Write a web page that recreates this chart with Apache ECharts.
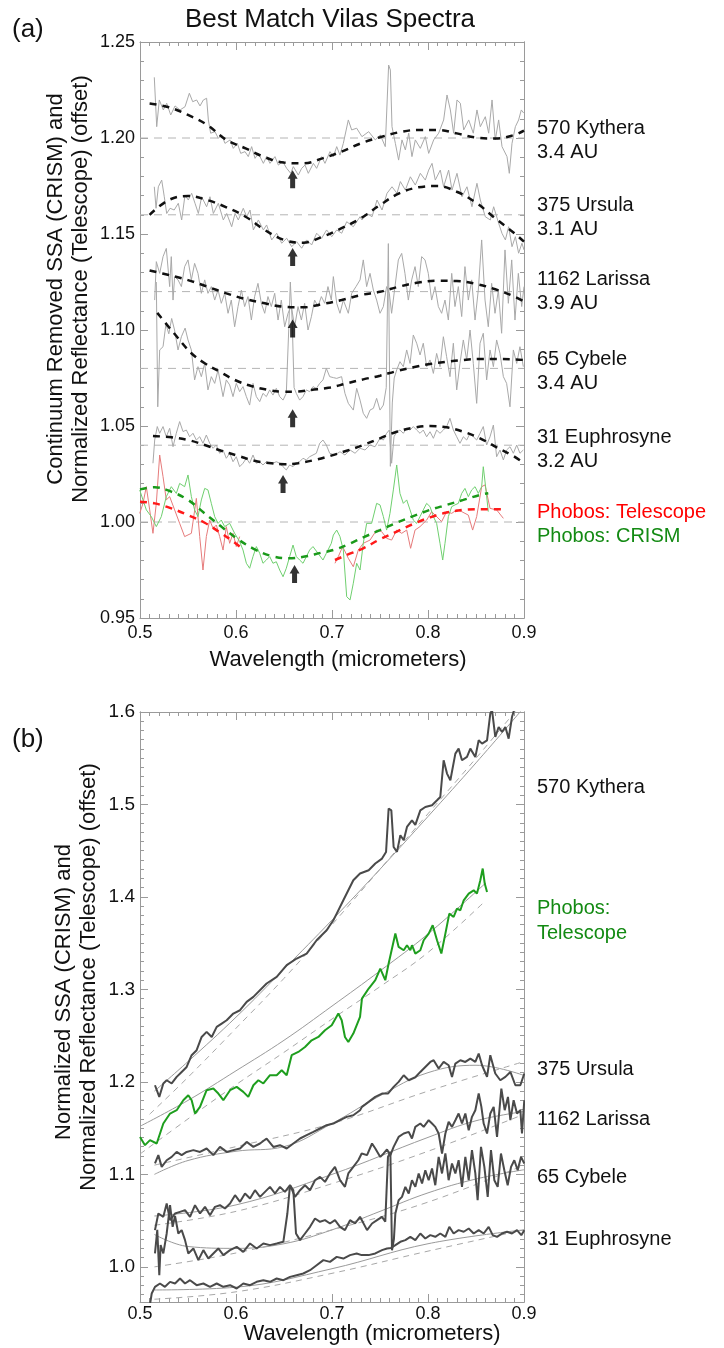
<!DOCTYPE html>
<html><head><meta charset="utf-8">
<script src="https://cdn.jsdelivr.net/npm/echarts@6/dist/echarts.min.js"></script>
<style>html,body{margin:0;padding:0;background:#fff}#c{width:724px;height:1348px}</style>
</head><body><div id="c"></div>
<script>
// ---------- Panel (a) : continuum removed spectra ----------
const xTicks = [0.5, 0.6, 0.7, 0.8, 0.9];
const yTicksA = [0.95, 1.00, 1.05, 1.10, 1.15, 1.20, 1.25];
const yTicksB = [1.0, 1.1, 1.2, 1.3, 1.4, 1.5, 1.6];
const refLinesA = [1.20, 1.16, 1.12, 1.08, 1.04, 1.00];

const kytheraA = [[0.5149,1.2316],[0.5174,1.2059],[0.5201,1.2198],[0.5243,1.2146],[0.5278,1.2181],[0.532,1.212],[0.5365,1.2167],[0.5417,1.2146],[0.5469,1.2163],[0.5514,1.2233],[0.5549,1.2189],[0.559,1.2198],[0.5625,1.2167],[0.566,1.2198],[0.5694,1.2207],[0.5712,1.2094],[0.5736,1.2025],[0.5781,1.2033],[0.5816,1.1998],[0.5851,1.2016],[0.5885,1.1972],[0.5938,1.199],[0.5972,1.1946],[0.6014,1.1972],[0.6049,1.192],[0.6094,1.1929],[0.6128,1.1903],[0.6163,1.1955],[0.6198,1.1894],[0.6233,1.192],[0.6285,1.1868],[0.6319,1.1903],[0.6354,1.1868],[0.6406,1.1903],[0.6441,1.1859],[0.6486,1.1877],[0.6528,1.1842],[0.657,1.1816],[0.6597,1.1851],[0.6649,1.1807],[0.6684,1.1842],[0.6719,1.1859],[0.6753,1.1816],[0.6806,1.1868],[0.684,1.1842],[0.6892,1.1903],[0.6927,1.1868],[0.6979,1.1929],[0.7014,1.1903],[0.7049,1.1955],[0.7083,1.1911],[0.7118,1.1972],[0.717,1.2094],[0.7205,1.2042],[0.7257,1.2051],[0.7312,1.2007],[0.7382,1.2033],[0.7451,1.199],[0.7503,1.2016],[0.7555,1.1955],[0.759,1.238],[0.7608,1.2354],[0.7625,1.2059],[0.766,1.1972],[0.7694,1.1885],[0.7729,1.199],[0.7764,1.1938],[0.7799,1.2025],[0.7833,1.1903],[0.7868,1.199],[0.792,1.1946],[0.7972,1.2007],[0.8007,1.192],[0.8059,1.199],[0.8111,1.2025],[0.8163,1.2094],[0.8198,1.2224],[0.8233,1.2146],[0.8267,1.2025],[0.8302,1.2198],[0.8337,1.2181],[0.8372,1.2042],[0.8424,1.2094],[0.8472,1.2025],[0.851,1.2146],[0.8545,1.2059],[0.8597,1.2111],[0.8632,1.2025],[0.8667,1.2198],[0.8701,1.199],[0.8736,1.2094],[0.8771,1.1955],[0.8823,1.1903],[0.8847,1.1816],[0.8875,1.1972],[0.891,1.2059],[0.8944,1.2094],[0.8972,1.2146],[0.8997,1.213]];
const ursulaA = [[0.5149,1.1746],[0.5167,1.1634],[0.5191,1.1746],[0.5226,1.1781],[0.5253,1.1694],[0.5278,1.1607],[0.5313,1.1634],[0.5356,1.1625],[0.5399,1.166],[0.5434,1.1573],[0.5469,1.1703],[0.5503,1.1677],[0.5538,1.1712],[0.5573,1.166],[0.5608,1.1607],[0.5642,1.1694],[0.5694,1.1642],[0.5729,1.1694],[0.5764,1.1607],[0.5816,1.166],[0.5868,1.1573],[0.5903,1.1607],[0.5955,1.1538],[0.599,1.1607],[0.6024,1.1573],[0.6076,1.1634],[0.6111,1.159],[0.6146,1.1625],[0.6181,1.1521],[0.6233,1.1573],[0.6285,1.1521],[0.6319,1.1547],[0.6372,1.1469],[0.6424,1.1504],[0.6476,1.1452],[0.6528,1.1478],[0.658,1.1434],[0.6632,1.146],[0.6684,1.1426],[0.6736,1.1469],[0.6788,1.1443],[0.684,1.1504],[0.6892,1.1478],[0.6944,1.1521],[0.6997,1.1486],[0.7049,1.1521],[0.7101,1.1504],[0.7153,1.1564],[0.7222,1.1538],[0.7292,1.159],[0.7312,1.1573],[0.7365,1.1607],[0.7417,1.159],[0.7469,1.1677],[0.7521,1.1625],[0.7573,1.1712],[0.7625,1.1746],[0.7677,1.1712],[0.7712,1.1773],[0.7764,1.1729],[0.7816,1.1798],[0.7868,1.1755],[0.792,1.1816],[0.7972,1.1781],[0.8007,1.1833],[0.8042,1.1868],[0.8076,1.1781],[0.8128,1.1833],[0.8163,1.1746],[0.8215,1.1833],[0.825,1.1729],[0.8302,1.1816],[0.8354,1.1694],[0.8406,1.1746],[0.8458,1.1642],[0.851,1.1764],[0.8545,1.1677],[0.8597,1.159],[0.8649,1.1573],[0.8684,1.1642],[0.8736,1.1556],[0.8771,1.1503],[0.8806,1.1469],[0.884,1.1538],[0.8875,1.1434],[0.891,1.1486],[0.8944,1.14],[0.8979,1.1452],[0.9,1.1417]];
const larissaA = [[0.5153,1.1156],[0.517,1.1356],[0.5205,1.1295],[0.524,1.1382],[0.5274,1.1425],[0.5309,1.1226],[0.5326,1.1382],[0.5344,1.1156],[0.5361,1.1278],[0.5396,1.1261],[0.5431,1.1226],[0.5465,1.133],[0.55,1.1365],[0.5535,1.1261],[0.5569,1.1347],[0.5604,1.1295],[0.5639,1.1191],[0.5674,1.1261],[0.5708,1.1191],[0.5743,1.1226],[0.5778,1.1156],[0.5813,1.1208],[0.5847,1.1139],[0.5882,1.1191],[0.5917,1.1087],[0.5951,1.1156],[0.5986,1.1017],[0.6021,1.1122],[0.6056,1.1208],[0.609,1.1122],[0.6125,1.1174],[0.616,1.1052],[0.6194,1.1174],[0.6229,1.1243],[0.6264,1.1139],[0.6299,1.1087],[0.6333,1.1174],[0.6368,1.1122],[0.6403,1.1191],[0.6438,1.1052],[0.6472,1.1156],[0.6507,1.1017],[0.6542,1.1087],[0.6576,1.1125],[0.6611,1.1017],[0.6646,1.1122],[0.6681,1.1052],[0.6715,1.1139],[0.675,1.1],[0.6785,1.1069],[0.6819,1.1156],[0.6854,1.1122],[0.6889,1.1174],[0.6924,1.1139],[0.6958,1.1226],[0.6993,1.1156],[0.7014,1.1278],[0.7049,1.1139],[0.7083,1.1087],[0.7118,1.1156],[0.717,1.1087],[0.7205,1.1191],[0.725,1.1226],[0.7292,1.1261],[0.7326,1.1365],[0.7361,1.1226],[0.7396,1.1295],[0.7431,1.1208],[0.7465,1.1156],[0.75,1.1087],[0.7535,1.1122],[0.7569,1.1226],[0.7597,1.1191],[0.7621,1.1087],[0.7656,1.1226],[0.7691,1.1365],[0.7726,1.1399],[0.776,1.1295],[0.7795,1.1156],[0.783,1.1261],[0.7865,1.133],[0.7899,1.1226],[0.7934,1.1382],[0.7969,1.1365],[0.8003,1.1295],[0.8038,1.1156],[0.8073,1.1226],[0.8108,1.1122],[0.8142,1.1087],[0.8177,1.1156],[0.8212,1.1052],[0.8247,1.1295],[0.8281,1.1122],[0.8316,1.1226],[0.8351,1.107],[0.8385,1.133],[0.842,1.1156],[0.8455,1.1261],[0.849,1.1052],[0.8524,1.1208],[0.8559,1.1469],[0.8594,1.1156],[0.8628,1.1017],[0.8663,1.1243],[0.8698,1.1087],[0.8733,1.1208],[0.8767,1.0983],[0.8802,1.1417],[0.8837,1.1139],[0.8872,1.1365],[0.8906,1.1052],[0.8941,1.1295],[0.8976,1.1122],[0.9,1.1226]];
const cybeleA = [[0.517,1.125],[0.5185,1.06],[0.5205,1.0896],[0.524,1.0913],[0.527,1.103],[0.53,1.098],[0.533,1.106],[0.536,1.1],[0.5396,1.0896],[0.5431,1.0965],[0.547,1.101],[0.55,1.0948],[0.5535,1.0896],[0.5569,1.074],[0.5604,1.0809],[0.5639,1.0757],[0.5674,1.0826],[0.5708,1.0688],[0.5743,1.0757],[0.5778,1.0722],[0.5813,1.0792],[0.5865,1.0653],[0.5899,1.074],[0.5934,1.0714],[0.5969,1.0653],[0.6003,1.0722],[0.6038,1.0679],[0.6073,1.0705],[0.6108,1.0653],[0.6142,1.0609],[0.6177,1.0722],[0.6212,1.0653],[0.6247,1.0627],[0.6281,1.067],[0.6316,1.0653],[0.6351,1.0688],[0.6385,1.0661],[0.642,1.0696],[0.6455,1.0653],[0.649,1.0635],[0.6524,1.067],[0.6549,1.1],[0.6566,1.125],[0.6585,1.105],[0.6605,1.07],[0.6628,1.067],[0.6663,1.0635],[0.6698,1.0653],[0.6733,1.0688],[0.6767,1.0679],[0.6802,1.0705],[0.6837,1.0696],[0.6872,1.0722],[0.6906,1.074],[0.6941,1.08],[0.6976,1.0757],[0.7014,1.0752],[0.7049,1.0748],[0.71,1.0757],[0.7135,1.067],[0.717,1.0618],[0.7222,1.0583],[0.7257,1.0696],[0.7292,1.0635],[0.7326,1.0566],[0.7361,1.054],[0.7396,1.0583],[0.7431,1.0592],[0.7465,1.0644],[0.75,1.0583],[0.7535,1.0609],[0.7565,1.07],[0.7587,1.145],[0.7608,1.029],[0.7628,1.062],[0.7648,1.075],[0.7674,1.0792],[0.7708,1.0835],[0.7743,1.0809],[0.7778,1.0896],[0.7813,1.0826],[0.7847,1.0974],[0.7882,1.0931],[0.7917,1.087],[0.7951,1.0931],[0.7986,1.0809],[0.8021,1.0844],[0.8056,1.0774],[0.809,1.0878],[0.8125,1.0809],[0.816,1.0965],[0.8194,1.0861],[0.8229,1.0757],[0.8264,1.0931],[0.8299,1.0688],[0.8333,1.0826],[0.8368,1.0948],[0.8403,1.0844],[0.8438,1.1],[0.8472,1.0826],[0.8507,1.0618],[0.8542,1.0931],[0.8576,1.0983],[0.8611,1.074],[0.8646,1.0896],[0.8681,1.0809],[0.8715,1.0948],[0.875,1.0878],[0.8785,1.0757],[0.8819,1.0722],[0.8854,1.06],[0.8889,1.0896],[0.8924,1.0826],[0.8958,1.0913],[0.8993,1.0809]];
const euphrosyneA = [[0.5135,1.0306],[0.5153,1.0427],[0.518,1.0497],[0.5205,1.0462],[0.524,1.0497],[0.5274,1.0444],[0.5309,1.0488],[0.5344,1.0392],[0.5378,1.0462],[0.5413,1.0523],[0.5448,1.0471],[0.5483,1.0479],[0.5517,1.0444],[0.5552,1.0462],[0.5587,1.0427],[0.5622,1.0444],[0.5656,1.041],[0.5691,1.0453],[0.5726,1.041],[0.5761,1.0384],[0.5795,1.0401],[0.583,1.0358],[0.5865,1.0375],[0.5899,1.0332],[0.5934,1.0358],[0.5969,1.0314],[0.6003,1.034],[0.6038,1.0288],[0.6073,1.0306],[0.6108,1.0332],[0.6142,1.0306],[0.6177,1.0349],[0.6212,1.0306],[0.6247,1.0314],[0.6281,1.0297],[0.6316,1.0314],[0.6351,1.0306],[0.6385,1.0306],[0.642,1.0314],[0.6455,1.0306],[0.649,1.0288],[0.6524,1.0271],[0.6559,1.0297],[0.6594,1.0288],[0.6628,1.0306],[0.6663,1.0314],[0.6698,1.0332],[0.6733,1.0323],[0.6767,1.034],[0.6802,1.0349],[0.6837,1.0358],[0.6872,1.041],[0.6906,1.0427],[0.6941,1.0401],[0.6976,1.0358],[0.7031,1.0349],[0.7083,1.0366],[0.7135,1.0349],[0.7188,1.0375],[0.724,1.0358],[0.7292,1.0384],[0.7344,1.0375],[0.7396,1.0401],[0.7448,1.0392],[0.75,1.0436],[0.7535,1.0427],[0.7569,1.0462],[0.7597,1.0479],[0.7621,1.0306],[0.7646,1.0444],[0.7674,1.047],[0.7708,1.0479],[0.7743,1.0462],[0.7778,1.0488],[0.7813,1.0479],[0.7847,1.0497],[0.7882,1.0479],[0.7917,1.0462],[0.7951,1.0479],[0.7986,1.0444],[0.8021,1.047],[0.8056,1.0436],[0.809,1.0479],[0.8125,1.0462],[0.816,1.0479],[0.8194,1.0497],[0.8229,1.054],[0.8264,1.0479],[0.8299,1.0444],[0.8333,1.041],[0.8368,1.0444],[0.8403,1.0427],[0.8438,1.0462],[0.8472,1.0444],[0.8507,1.0427],[0.8542,1.0462],[0.8576,1.0497],[0.8611,1.0401],[0.8646,1.0444],[0.8681,1.0505],[0.8715,1.034],[0.875,1.0375],[0.8785,1.0323],[0.8819,1.0375],[0.8854,1.0392],[0.8889,1.0358],[0.8924,1.0401],[0.8958,1.0358],[0.8993,1.0375]];
const crismA = [[0.4997,1.0167],[0.5031,1.0115],[0.5066,1.0063],[0.5118,1.0028],[0.517,0.9976],[0.5222,1.0028],[0.5274,1.0132],[0.5326,1.0184],[0.5378,1.0149],[0.5413,1.0201],[0.5465,1.0184],[0.55,1.0245],[0.5535,1.0132],[0.5569,1.0063],[0.5604,1.0028],[0.5639,1.0115],[0.5674,1.0175],[0.5708,1.0167],[0.5743,1.0097],[0.5778,1.0028],[0.5813,0.9993],[0.5847,1.001],[0.5882,0.9976],[0.5934,0.9993],[0.5986,0.9941],[0.6038,0.9898],[0.6073,0.9854],[0.6108,0.9785],[0.6142,0.9759],[0.6177,0.982],[0.6212,0.9872],[0.6247,0.9837],[0.6281,0.9785],[0.6316,0.9802],[0.6351,0.982],[0.6385,0.9785],[0.642,0.9793],[0.6455,0.975],[0.649,0.9715],[0.6524,0.9759],[0.6559,0.982],[0.6594,0.988],[0.6628,0.982],[0.6663,0.9802],[0.6698,0.9785],[0.6733,0.982],[0.6767,0.9854],[0.6802,0.9872],[0.6854,0.9837],[0.6906,0.9802],[0.6941,0.9837],[0.6993,0.9889],[0.7014,0.9932],[0.7049,0.9958],[0.7083,0.9924],[0.7118,0.9854],[0.7153,0.9611],[0.7188,0.9594],[0.7222,0.9681],[0.7257,0.9785],[0.7292,0.975],[0.7326,0.9889],[0.7361,0.9993],[0.7413,0.9993],[0.7465,1.0097],[0.75,1.0089],[0.7535,1.0028],[0.7569,0.9958],[0.7604,1.0045],[0.7639,1.0167],[0.7674,1.0297],[0.7708,1.0149],[0.7743,1.0097],[0.7778,1.0115],[0.7813,1.0063],[0.7847,1.001],[0.7882,0.9993],[0.7917,1.0028],[0.7951,1.0063],[0.7986,1.0097],[0.8021,1.008],[0.8056,1.0028],[0.809,0.9993],[0.8125,0.9889],[0.8153,0.9802],[0.8177,0.9889],[0.8212,1.0028],[0.8247,1.008],[0.8281,1.0089],[0.8316,1.0097],[0.8351,1.0149],[0.8385,1.0175],[0.842,1.0132],[0.8455,1.0167],[0.849,1.0184],[0.8524,1.0149],[0.8559,1.0184],[0.8576,1.0288],[0.8604,1.0167],[0.8628,1.0054]];
const telescopeA1 = [[0.4997,1.0045],[0.5031,1.0097],[0.5066,1.0184],[0.5101,1.0063],[0.5135,0.9941],[0.517,1.0097],[0.5205,1.0349],[0.524,1.0236],[0.5274,1.0115],[0.5309,1.0132],[0.5361,1.0063],[0.5413,0.9993],[0.5465,0.9924],[0.5535,0.9941],[0.5587,1.0123],[0.5622,0.9924],[0.5656,0.975],[0.5691,0.9924],[0.5726,1.001],[0.5761,0.9967],[0.5795,0.9984],[0.583,0.9924],[0.5865,0.9854],[0.5899,0.9976],[0.5934,0.9889],[0.5969,0.9941],[0.6003,0.9872],[0.6038,0.9924]];
const telescopeA2 = [[0.7031,0.9785],[0.7066,0.982],[0.7111,0.9872],[0.717,0.9811],[0.7222,0.9767],[0.7274,0.9854],[0.7326,0.9889],[0.7396,0.9906],[0.7465,0.9958],[0.7517,0.995],[0.7569,0.9915],[0.7621,0.9906],[0.7674,0.9958],[0.7726,0.9941],[0.7778,0.9958],[0.7819,0.9863],[0.7865,0.9958],[0.7917,0.9976],[0.7986,1.001],[0.8038,1.0054],[0.809,1.0028],[0.8142,1.0002],[0.8194,1.0054],[0.8247,1.0045],[0.8299,1.0063],[0.8351,1.0054],[0.842,1.0036],[0.8465,0.9958],[0.8507,1.0028],[0.8559,1.0184],[0.8594,1.0193],[0.8646,1.0071],[0.8715,1.0063],[0.8785,1.0019]];

// fitted curves (panel a)
const kytheraFitA = [[0.51,1.218],[0.53,1.216],[0.55,1.212],[0.57,1.2068],[0.59,1.199],[0.61,1.1946],[0.63,1.19],[0.65,1.1872],[0.67,1.1868],[0.69,1.1894],[0.71,1.1929],[0.73,1.1972],[0.75,1.2004],[0.77,1.203],[0.79,1.2042],[0.81,1.2042],[0.83,1.2024],[0.85,1.2002],[0.87,1.1997],[0.89,1.2016],[0.9,1.2038]];
const ursulaFitA = [[0.51,1.16],[0.53,1.1677],[0.55,1.1698],[0.57,1.1677],[0.59,1.1639],[0.61,1.159],[0.63,1.1521],[0.65,1.1469],[0.67,1.1455],[0.69,1.1486],[0.71,1.153],[0.73,1.1582],[0.75,1.1651],[0.77,1.1712],[0.79,1.1743],[0.81,1.175],[0.83,1.172],[0.85,1.1663],[0.87,1.1582],[0.89,1.1504],[0.9,1.146]];
const larissaFitA = [[0.51,1.131],[0.53,1.1286],[0.55,1.126],[0.57,1.1226],[0.59,1.1191],[0.61,1.1161],[0.63,1.1139],[0.65,1.1121],[0.67,1.1118],[0.69,1.1135],[0.71,1.1156],[0.73,1.1182],[0.75,1.1199],[0.77,1.1226],[0.79,1.1247],[0.81,1.1257],[0.83,1.1255],[0.85,1.124],[0.87,1.1212],[0.89,1.1174],[0.9,1.1148]];
const cybeleFitA = [[0.518,1.1089],[0.5361,1.0979],[0.5535,1.0879],[0.5674,1.0827],[0.583,1.0783],[0.5986,1.074],[0.616,1.0708],[0.6333,1.0688],[0.6472,1.0679],[0.6611,1.0679],[0.6785,1.0688],[0.6979,1.07],[0.7153,1.0722],[0.7326,1.0743],[0.75,1.0762],[0.7674,1.0786],[0.7847,1.0806],[0.8021,1.0823],[0.8194,1.0835],[0.8368,1.0844],[0.8542,1.0849],[0.8715,1.0849],[0.8889,1.0847],[0.9,1.0844]];
const euphrosyneFitA = [[0.5135,1.0448],[0.5326,1.0441],[0.55,1.0427],[0.5674,1.0401],[0.5847,1.0371],[0.6021,1.0345],[0.6194,1.0319],[0.6368,1.0306],[0.6507,1.0301],[0.6646,1.0306],[0.682,1.0323],[0.6979,1.0344],[0.7153,1.0371],[0.7326,1.0401],[0.75,1.0436],[0.7674,1.047],[0.7847,1.0491],[0.8021,1.05],[0.8194,1.0493],[0.8368,1.047],[0.8542,1.0436],[0.8715,1.0389],[0.8889,1.0344],[0.9,1.0306]];
const crismFitA = [[0.5,1.017],[0.5153,1.0181],[0.5326,1.0158],[0.55,1.0115],[0.5674,1.0045],[0.5847,0.9976],[0.6021,0.991],[0.6194,0.9858],[0.6368,0.9823],[0.6542,0.9811],[0.6715,0.982],[0.6889,0.984],[0.7014,0.9854],[0.7153,0.988],[0.7326,0.992],[0.75,0.9958],[0.7674,0.9996],[0.7847,1.0031],[0.8021,1.0063],[0.8194,1.0089],[0.8368,1.0115],[0.8542,1.0141],[0.8628,1.015]];
const telescopeFitA1 = [[0.5,1.0106],[0.5153,1.0097],[0.5326,1.0071],[0.55,1.0036],[0.5674,0.9996],[0.5847,0.9941],[0.595,0.9906],[0.6038,0.9872]];
const telescopeFitA2 = [[0.7031,0.9802],[0.7153,0.9828],[0.7326,0.9863],[0.75,0.991],[0.7674,0.995],[0.7847,0.999],[0.8021,1.0024],[0.8194,1.0049],[0.8368,1.0063],[0.8542,1.0066],[0.8785,1.0066]];
// band-centre arrows (panel a)
const arrowsA = [[0.659,1.1785],[0.659,1.138],[0.659,1.1008],[0.659,1.054],[0.649,1.0198],[0.661,0.9729]];

// ---------- Panel (b) : normalized spectra ----------
const kytheraB = [[0.5156,1.1964],[0.5201,1.1838],[0.5243,1.1983],[0.5278,1.2018],[0.533,1.1983],[0.5382,1.2054],[0.5434,1.2108],[0.5486,1.2162],[0.5538,1.2289],[0.559,1.2343],[0.5642,1.2486],[0.5694,1.2541],[0.5747,1.2486],[0.5799,1.2595],[0.5851,1.2631],[0.5903,1.2667],[0.5972,1.2739],[0.6042,1.2775],[0.6111,1.2865],[0.6181,1.2919],[0.6319,1.3064],[0.6424,1.3135],[0.6528,1.3262],[0.6632,1.3334],[0.6736,1.3388],[0.684,1.3532],[0.6944,1.364],[0.7014,1.3748],[0.7049,1.382],[0.7118,1.3964],[0.717,1.4072],[0.7222,1.4181],[0.7292,1.4253],[0.7382,1.4289],[0.7451,1.4361],[0.7521,1.4415],[0.7563,1.4487],[0.759,1.4956],[0.7618,1.4937],[0.7642,1.454],[0.7677,1.4487],[0.7712,1.4667],[0.7747,1.4613],[0.7781,1.4757],[0.7833,1.4829],[0.7868,1.478],[0.792,1.4937],[0.7972,1.4973],[0.8042,1.4991],[0.8094,1.5045],[0.8128,1.5081],[0.8163,1.5478],[0.8198,1.5334],[0.8233,1.5262],[0.8285,1.555],[0.8319,1.5604],[0.8354,1.5478],[0.8406,1.5514],[0.8441,1.5604],[0.8493,1.5514],[0.8528,1.5694],[0.8563,1.5658],[0.8615,1.5694],[0.8649,1.5983],[0.8667,1.602],[0.8701,1.573],[0.8736,1.5838],[0.8771,1.5784],[0.8806,1.5838],[0.884,1.5712],[0.8875,1.5946],[0.8892,1.6005],[0.8935,1.61],[0.8975,1.612],[0.9,1.62]];
const phobosB = [[0.5,1.1405],[0.5052,1.1316],[0.5104,1.137],[0.5174,1.1334],[0.5243,1.155],[0.5313,1.1658],[0.5382,1.1694],[0.5451,1.1802],[0.5503,1.1856],[0.5538,1.1802],[0.5573,1.1658],[0.5625,1.173],[0.5694,1.191],[0.5764,1.1928],[0.5816,1.1874],[0.5868,1.1802],[0.5938,1.191],[0.6007,1.1946],[0.6076,1.1892],[0.6128,1.1838],[0.6181,1.1964],[0.6233,1.2018],[0.6285,1.1983],[0.6354,1.2072],[0.6424,1.2072],[0.6476,1.2126],[0.6528,1.2072],[0.658,1.2289],[0.6649,1.2324],[0.6719,1.2378],[0.6788,1.245],[0.6858,1.2486],[0.6927,1.2559],[0.6997,1.2613],[0.7066,1.2739],[0.7101,1.2667],[0.7135,1.2486],[0.717,1.2432],[0.7222,1.2523],[0.7292,1.2703],[0.7312,1.2901],[0.7382,1.301],[0.7451,1.31],[0.7503,1.3226],[0.7555,1.31],[0.759,1.328],[0.766,1.3604],[0.7694,1.346],[0.7747,1.3424],[0.7781,1.3478],[0.7816,1.3424],[0.7833,1.3478],[0.7868,1.3388],[0.792,1.3424],[0.7955,1.3532],[0.8007,1.3604],[0.8049,1.3694],[0.8094,1.3532],[0.8139,1.3388],[0.8181,1.3604],[0.8222,1.382],[0.8267,1.3784],[0.8302,1.3874],[0.8337,1.3856],[0.8372,1.3964],[0.8424,1.4036],[0.8476,1.4072],[0.851,1.4036],[0.8545,1.4181],[0.857,1.4307],[0.8591,1.4145],[0.8615,1.4054]];
const ursulaB = [[0.5156,1.1118],[0.5191,1.1208],[0.5226,1.1081],[0.5278,1.1153],[0.533,1.1189],[0.5382,1.1243],[0.5434,1.1208],[0.5486,1.1243],[0.5556,1.1262],[0.5625,1.1243],[0.5694,1.128],[0.5764,1.1208],[0.5833,1.1297],[0.5903,1.1243],[0.5972,1.1262],[0.6042,1.128],[0.6111,1.1351],[0.6181,1.1297],[0.625,1.1334],[0.6319,1.1388],[0.6389,1.1297],[0.6458,1.1316],[0.6528,1.128],[0.6597,1.1334],[0.6667,1.1388],[0.6736,1.1424],[0.6806,1.146],[0.6875,1.1496],[0.6944,1.1532],[0.7014,1.155],[0.7083,1.1586],[0.7153,1.1622],[0.7222,1.164],[0.7292,1.1694],[0.7312,1.173],[0.7382,1.1784],[0.7451,1.1838],[0.7521,1.1874],[0.7583,1.1874],[0.7642,1.1946],[0.7694,1.2],[0.7747,1.2072],[0.7799,1.2018],[0.7868,1.205],[0.792,1.2108],[0.7972,1.2162],[0.8024,1.2216],[0.8059,1.2234],[0.8111,1.2145],[0.8163,1.2216],[0.8215,1.218],[0.825,1.2054],[0.8285,1.2198],[0.8337,1.2234],[0.8389,1.2216],[0.8441,1.2252],[0.8493,1.2216],[0.8528,1.2307],[0.8563,1.218],[0.8615,1.2054],[0.8649,1.2289],[0.8701,1.2091],[0.8753,1.2018],[0.8806,1.2054],[0.8858,1.2108],[0.891,1.1964],[0.8962,1.1964],[0.9003,1.2091]];
const larissaB = [[0.5156,1.0397],[0.5191,1.0577],[0.5243,1.0541],[0.5278,1.0685],[0.5313,1.0505],[0.5365,1.0577],[0.5417,1.0595],[0.5469,1.0613],[0.5521,1.0541],[0.5573,1.0667],[0.5625,1.0577],[0.5677,1.0649],[0.5729,1.0559],[0.5781,1.0649],[0.5833,1.0667],[0.5885,1.0631],[0.5938,1.0685],[0.599,1.0775],[0.6042,1.0703],[0.6094,1.0793],[0.6146,1.0739],[0.6198,1.0829],[0.625,1.0757],[0.6302,1.0811],[0.6354,1.0865],[0.6406,1.0793],[0.6458,1.0865],[0.651,1.0811],[0.6563,1.0883],[0.6615,1.0757],[0.6667,1.0829],[0.6719,1.0883],[0.6771,1.0829],[0.6823,1.0937],[0.6875,1.0973],[0.6927,1.0919],[0.6979,1.101],[0.7031,1.1081],[0.7083,1.0937],[0.7135,1.0865],[0.717,1.101],[0.7222,1.1081],[0.7274,1.1153],[0.7309,1.1226],[0.7365,1.1208],[0.7417,1.1334],[0.7451,1.128],[0.7503,1.1189],[0.7538,1.1226],[0.7573,1.127],[0.7608,1.1208],[0.7642,1.1297],[0.7694,1.1405],[0.7747,1.1442],[0.7799,1.146],[0.7833,1.1388],[0.7868,1.1514],[0.792,1.155],[0.7955,1.1514],[0.8007,1.1586],[0.8042,1.155],[0.8076,1.1514],[0.8111,1.1442],[0.8146,1.1226],[0.8181,1.1442],[0.8215,1.1568],[0.825,1.1514],[0.8285,1.1586],[0.8319,1.1658],[0.8354,1.155],[0.8389,1.1658],[0.8424,1.1478],[0.8458,1.1622],[0.8493,1.1694],[0.8528,1.1874],[0.8556,1.173],[0.858,1.155],[0.8615,1.1442],[0.8649,1.1658],[0.8684,1.173],[0.8719,1.1405],[0.8764,1.1928],[0.8799,1.1694],[0.8833,1.1838],[0.8858,1.1586],[0.8892,1.1802],[0.8927,1.1658],[0.8962,1.1694],[0.8979,1.1442],[0.9003,1.1802]];
const cybeleB = [[0.5156,1.0145],[0.518,1.04],[0.5201,0.991],[0.5215,1.0235],[0.5243,1.0145],[0.5278,1.0361],[0.5313,1.0667],[0.534,1.0433],[0.5365,1.055],[0.5399,1.0361],[0.5434,1.0397],[0.5469,1.0289],[0.5503,1.0145],[0.5556,1.0199],[0.5608,1.0073],[0.566,1.0181],[0.5712,1.0091],[0.5764,1.0145],[0.5816,1.0199],[0.5868,1.0127],[0.5938,1.0181],[0.6007,1.0216],[0.6076,1.0162],[0.6146,1.0253],[0.6215,1.0199],[0.6285,1.0253],[0.6354,1.0235],[0.6424,1.0253],[0.6493,1.0271],[0.6535,1.0577],[0.6563,1.0883],[0.6597,1.0829],[0.6625,1.0361],[0.6667,1.0289],[0.6719,1.0361],[0.6771,1.0433],[0.6823,1.0523],[0.6875,1.0487],[0.6927,1.0505],[0.6979,1.0469],[0.7031,1.0505],[0.7083,1.0433],[0.7135,1.0397],[0.7188,1.0505],[0.724,1.0469],[0.7292,1.0541],[0.7365,1.0397],[0.7417,1.0469],[0.7469,1.0505],[0.7521,1.0541],[0.7555,1.0487],[0.7583,1.1189],[0.7608,1.1243],[0.7625,1.018],[0.7645,1.03],[0.766,1.0577],[0.7694,1.0721],[0.7729,1.0757],[0.7764,1.0865],[0.7799,1.0793],[0.7833,1.0937],[0.7868,1.0865],[0.7903,1.101],[0.7938,1.0901],[0.7972,1.1045],[0.8007,1.0937],[0.8042,1.1064],[0.8076,1.0883],[0.8111,1.1189],[0.8146,1.101],[0.8181,1.1226],[0.8215,1.0937],[0.825,1.1118],[0.8285,1.101],[0.8319,1.1153],[0.8354,1.0865],[0.8389,1.1189],[0.8424,1.0937],[0.8458,1.1262],[0.8493,1.101],[0.8517,1.0721],[0.8552,1.1297],[0.8587,1.1081],[0.8622,1.0757],[0.8656,1.1262],[0.8691,1.0937],[0.8726,1.0865],[0.876,1.1226],[0.8795,1.1045],[0.883,1.0883],[0.8865,1.1081],[0.8899,1.1153],[0.8934,1.1045],[0.8969,1.1189],[0.9003,1.1118]];
const euphrosyneB = [[0.509,0.95],[0.5122,0.9712],[0.5156,0.9784],[0.5208,0.982],[0.526,0.9784],[0.5313,0.9838],[0.5365,0.982],[0.5417,0.9874],[0.5469,0.982],[0.5521,0.9856],[0.559,0.9802],[0.566,0.982],[0.5729,0.9784],[0.5799,0.982],[0.5868,0.9784],[0.5938,0.9802],[0.6007,0.9766],[0.6076,0.982],[0.6146,0.9802],[0.6215,0.9838],[0.6285,0.9856],[0.6354,0.9838],[0.6424,0.9874],[0.6493,0.9856],[0.6563,0.9892],[0.6632,0.991],[0.6701,0.9928],[0.6771,0.9964],[0.684,1.0018],[0.691,1.0073],[0.6979,1.0054],[0.7049,1.0108],[0.7118,1.009],[0.7188,1.0127],[0.7257,1.0145],[0.7309,1.0127],[0.7381,1.0127],[0.7451,1.0145],[0.7521,1.0181],[0.7573,1.0199],[0.7615,1.0205],[0.766,1.0235],[0.7712,1.0271],[0.7764,1.0289],[0.7816,1.0324],[0.7868,1.0289],[0.792,1.0361],[0.7972,1.0307],[0.8024,1.0343],[0.8076,1.0325],[0.8128,1.0361],[0.8181,1.0324],[0.8222,1.0433],[0.8267,1.0361],[0.8319,1.0397],[0.8372,1.038],[0.8424,1.0415],[0.8476,1.0361],[0.8528,1.0397],[0.858,1.0361],[0.8632,1.0433],[0.8674,1.0343],[0.8719,1.0324],[0.8771,1.0361],[0.8823,1.0379],[0.8875,1.0361],[0.8927,1.0397],[0.8972,1.0343],[0.9003,1.0397]];
// fits (panel b): solid = polynomial, dashed = continuum
const kytheraFitB = [[0.515,1.19],[0.55,1.222],[0.6,1.27],[0.65,1.322],[0.7,1.375],[0.75,1.43],[0.8,1.487],[0.85,1.545],[0.9,1.605]];
const kytheraContB = [[0.51,1.165],[0.55,1.205],[0.6,1.258],[0.65,1.312],[0.7,1.37],[0.75,1.43],[0.8,1.49],[0.85,1.55],[0.9,1.612]];
const phobosFitB = [[0.5,1.152],[0.55,1.18],[0.6,1.212],[0.65,1.245],[0.7,1.282],[0.75,1.32],[0.8,1.36],[0.86,1.415]];
const phobosContB = [[0.5,1.122],[0.55,1.16],[0.6,1.197],[0.65,1.232],[0.7,1.268],[0.75,1.303],[0.8,1.34],[0.86,1.396]];
const ursulaFitB = [[0.515,1.1],[0.55,1.115],[0.6,1.125],[0.65,1.13],[0.7,1.155],[0.75,1.185],[0.8,1.21],[0.85,1.218],[0.9,1.207]];
const ursulaContB = [[0.515,1.11],[0.6,1.13],[0.7,1.155],[0.8,1.19],[0.9,1.222]];
const larissaFitB = [[0.515,1.055],[0.6,1.067],[0.7,1.1],[0.8,1.14],[0.85,1.158],[0.9,1.168]];
const larissaContB = [[0.515,1.045],[0.6,1.06],[0.7,1.09],[0.8,1.125],[0.9,1.165]];
const cybeleFitB = [[0.515,1.035],[0.55,1.022],[0.6,1.02],[0.65,1.025],[0.7,1.04],[0.75,1.06],[0.8,1.08],[0.85,1.095],[0.9,1.105]];
const cybeleContB = [[0.515,1.0],[0.6,1.015],[0.7,1.04],[0.8,1.07],[0.9,1.11]];
const euphrosyneFitB = [[0.515,0.975],[0.6,0.978],[0.7,0.998],[0.8,1.025],[0.9,1.04]];
const euphrosyneContB = [[0.515,0.965],[0.6,0.973],[0.7,0.993],[0.8,1.017],[0.9,1.04]];

// labels
const labelsA = [['570 Kythera','3.4 AU'],['375 Ursula','3.1 AU'],['1162 Larissa','3.9 AU'],['65 Cybele','3.4 AU'],['31 Euphrosyne','3.2 AU']];
const labelsB = ['570 Kythera','375 Ursula','1162 Larissa','65 Cybele','31 Euphrosyne'];

// ---------- chart ----------
const FONT = '"Liberation Sans", Arial, sans-serif';
const AX = '#9a9a9a';
const TXT = '#111';
const chart = echarts.init(document.getElementById('c'));

function xAx(grid, pos, showLabel, margin){
  return {type:'value', gridIndex:grid, position:pos, min:0.5, max:0.9, interval:0.1,
    axisLine:{show:true, onZero:false, lineStyle:{color:AX, width:1}},
    axisTick:{show:true, inside:true, length:8, lineStyle:{color:AX}},
    minorTick:{show:true, splitNumber:10, length:4, lineStyle:{color:AX}},
    splitLine:{show:false}, minorSplitLine:{show:false},
    axisLabel:{show:showLabel, color:TXT, fontSize:18, fontFamily:FONT, margin:margin, formatter:v=>v.toFixed(1)}};
}
function yAx(grid, pos, min, max, ticks, showLabel, dec, fs, len){
  return {type:'value', gridIndex:grid, position:pos, min:min, max:max,
    axisLine:{show:true, onZero:false, lineStyle:{color:AX, width:1}},
    axisTick:{show:true, inside:true, length:len, customValues:ticks, lineStyle:{color:AX}},
    splitLine:{show:false},
    axisLabel:{show:showLabel, color:TXT, fontSize:fs, fontFamily:FONT, margin:5, customValues:ticks, formatter:v=>v.toFixed(dec)}};
}
function minorVals(a,b){ const r=[]; for(let k=Math.round(a*100);k<=Math.round(b*100);k++){ r.push(k/100);} return r; }

const option = {
  animation:false,
  backgroundColor:'#fff',
  grid:[{left:140, top:42, width:384, height:576},{left:140, top:712, width:384, height:590}],
  xAxis:[xAx(0,'bottom',true,6), xAx(0,'top',false,6), xAx(1,'bottom',true,3), xAx(1,'top',false,3)],
  yAxis:[
    yAx(0,'left',0.95,1.25,yTicksA,true,2,18,8),
    yAx(0,'right',0.95,1.25,yTicksA,false,2,18,8),
    yAx(0,'left',0.95,1.25,minorVals(0.96,1.24),false,2,18,4),
    yAx(0,'right',0.95,1.25,minorVals(0.96,1.24),false,2,18,4),
    yAx(1,'left',0.962,1.6,yTicksB,true,1,19,8),
    yAx(1,'right',0.962,1.6,yTicksB,false,1,19,8),
    yAx(1,'left',0.962,1.6,minorVals(0.97,1.59),false,1,19,4),
    yAx(1,'right',0.962,1.6,minorVals(0.97,1.59),false,1,19,4)
  ],
  series:[],
  graphic:[]
};

function line(data, xi, yi, color, width, type, z){
  option.series.push({type:'line', xAxisIndex:xi, yAxisIndex:yi, data:data, showSymbol:false, symbol:'none',
    smooth:false, clip:true, z:z||2, silent:true,
    lineStyle:{color:color, width:width, type:type||'solid', cap:'butt'}});
}
function smoothLine(data, xi, yi, color, width, type, z){
  line(data, xi, yi, color, width, type, z);
  option.series[option.series.length-1].smooth = 0.4;
}

// panel a reference lines
refLinesA.forEach(v => line([[0.5,v],[0.9,v]],0,0,'#b4b4b4',1,[8,6],1));
// panel a spectra
[kytheraA, ursulaA, larissaA, cybeleA, euphrosyneA].forEach(d => line(d,0,0,'#a9a9a9',1,'solid',2));
line(telescopeA1,0,0,'#e67b7b',1,'solid',3);
line(telescopeA2,0,0,'#e67b7b',1,'solid',3);
line(crismA,0,0,'#6fcf6f',1,'solid',3);
// panel a fits
[kytheraFitA, ursulaFitA, larissaFitA, cybeleFitA, euphrosyneFitA].forEach(d => smoothLine(d,0,0,'#111',2.5,[7,6],5));
smoothLine(crismFitA,0,0,'#1a9a1a',2.5,[7,6],5);
smoothLine(telescopeFitA1,0,0,'#ff1a1a',2.5,[7,6],5);
smoothLine(telescopeFitA2,0,0,'#ff1a1a',2.5,[7,6],5);
// arrows
option.series.push({type:'scatter', xAxisIndex:0, yAxisIndex:0, data:arrowsA, silent:true, z:6,
  symbol:'path://M5,0 L10,8 L7.5,8 L7.5,17 L2.5,17 L2.5,8 L0,8 Z', symbolSize:[10,18],
  itemStyle:{color:'#000'}});

// panel b fits
[[kytheraFitB,kytheraContB],[phobosFitB,phobosContB],[ursulaFitB,ursulaContB],[larissaFitB,larissaContB],[cybeleFitB,cybeleContB],[euphrosyneFitB,euphrosyneContB]].forEach(p=>{
  smoothLine(p[0],2,4,'#9a9a9a',1,'solid',2);
  smoothLine(p[1],2,4,'#a8a8a8',1,[6,5],2);
});
// panel b spectra
[kytheraB, ursulaB, larissaB, cybeleB, euphrosyneB].forEach(d => line(d,2,4,'#4a4a4a',2,'solid',3));
line(phobosB,2,4,'#1e9e1e',2,'solid',4);

// text
function txt(x,y,s,size,color,align,rot){
  option.graphic.push({type:'text', x:x, y:y, rotation:rot||0, silent:true,
    style:{text:s, fill:color||TXT, font:size+'px '+FONT, textAlign:align||'left', textVerticalAlign:'middle'}});
}
txt(330,20,'Best Match Vilas Spectra',26,TXT,'center');
txt(12,30,'(a)',26,TXT,'left');
txt(12,740,'(b)',26,TXT,'left');
txt(56,289,'Continuum Removed SSA (CRISM) and',22,TXT,'center',Math.PI/2);
txt(81,289,'Normalized Reflectance (Telescope) (offset)',22,TXT,'center',Math.PI/2);
txt(64,992,'Normalized SSA (CRISM) and',22,TXT,'center',Math.PI/2);
txt(89,977,'Normalized Reflectance (Telescope) (offset)',22,TXT,'center',Math.PI/2);
txt(338,660,'Wavelength (micrometers)',22,TXT,'center');
txt(372,1334,'Wavelength (micrometers)',22,TXT,'center');
const ysA = [128,205,279,359,437];
labelsA.forEach((l,i)=>{ txt(537,ysA[i],l[0],20); txt(537,ysA[i]+24,l[1],20); });
txt(537,512,'Phobos: Telescope',20,'#ff0000');
txt(537,536,'Phobos: CRISM',20,'#138a13');
const ysB = [787,1069,1119,1177,1239];
labelsB.forEach((l,i)=> txt(537,ysB[i],l,20));
txt(537,908,'Phobos:',20,'#138a13');
txt(537,933,'Telescope',20,'#138a13');

chart.setOption(option);
</script></body></html>
